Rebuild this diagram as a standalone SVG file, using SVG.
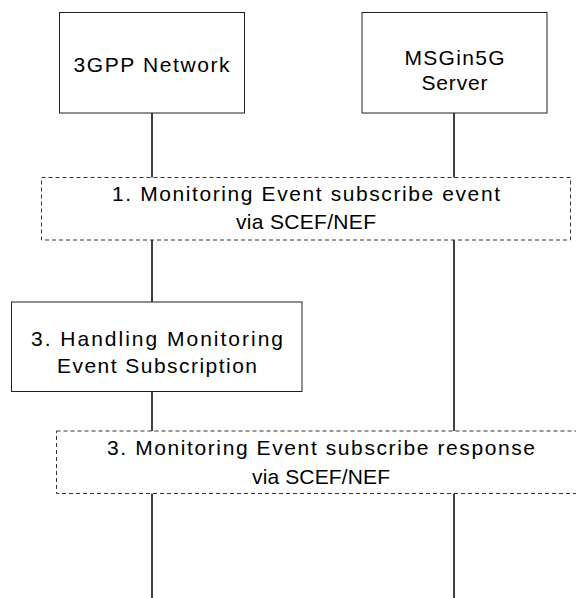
<svg xmlns="http://www.w3.org/2000/svg" width="576" height="598" viewBox="0 0 576 598">
<style>
.bg{fill:#fff}
.life{stroke:#000;stroke-width:1.5;fill:none}
.box{fill:#fff;stroke:#222;stroke-width:1}
.dash{fill:#fff;stroke:#333;stroke-width:1;stroke-dasharray:4 3}
.t{font-family:"Liberation Sans",Arial,sans-serif;font-size:21px;fill:#000;text-anchor:middle}
</style>
<rect class="bg" x="0" y="0" width="576" height="598"/>
<g id="connectors">
<line class="life" x1="152" y1="113" x2="152" y2="598"/>
<line class="life" x1="454" y1="113" x2="454" y2="598"/>
</g>
<g id="node-3gpp">
<rect class="box" x="59.5" y="12.5" width="185" height="100.5"/>
<text class="t" x="151.5" y="72" textLength="156" lengthAdjust="spacing">3GPP Network</text>
</g>
<g id="node-msgin5g">
<rect class="box" x="362" y="12.5" width="185" height="100.5"/>
<text class="t" x="454.5" y="65" textLength="100" lengthAdjust="spacing">MSGin5G</text>
<text class="t" x="454.5" y="90" textLength="66" lengthAdjust="spacing">Server</text>
</g>
<g id="step1">
<rect class="dash" x="41.5" y="177.5" width="529" height="62.5"/>
<text class="t" x="306" y="201" textLength="388" lengthAdjust="spacing">1. Monitoring Event subscribe event</text>
<text class="t" x="306" y="229" textLength="140" lengthAdjust="spacing">via SCEF/NEF</text>
</g>
<g id="step2">
<rect class="box" x="11.5" y="302" width="290.5" height="89.5"/>
<text class="t" x="157" y="346" textLength="252" lengthAdjust="spacing">3. Handling Monitoring</text>
<text class="t" x="157" y="373" textLength="200" lengthAdjust="spacing">Event Subscription</text>
</g>
<g id="step3">
<rect class="dash" x="56.5" y="431" width="530" height="62.5"/>
<text class="t" x="321" y="455" textLength="428" lengthAdjust="spacing">3. Monitoring Event subscribe response</text>
<text class="t" x="321" y="484" textLength="138" lengthAdjust="spacing">via SCEF/NEF</text>
</g>
</svg>
